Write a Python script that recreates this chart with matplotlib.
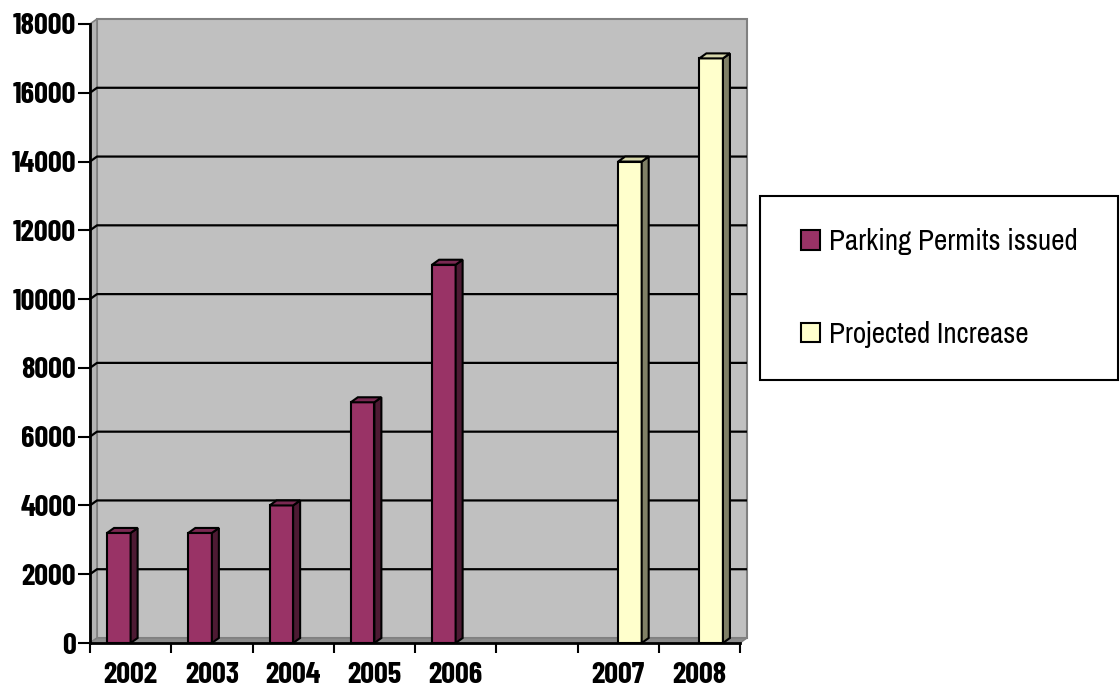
import matplotlib
matplotlib.use('Agg')
import matplotlib.pyplot as plt
from matplotlib.patches import Polygon, Rectangle
import numpy as np

# chart data
years = ['2002', '2003', '2004', '2005', '2006', '', '2007', '2008']
permits = [3200, 3200, 4000, 7000, 11000, np.nan, np.nan, np.nan]
projected = [np.nan, np.nan, np.nan, np.nan, np.nan, np.nan, 14000, 17000]
y_ticks = list(range(0, 18001, 2000))

TICK_FONT = ['Liberation Sans Narrow', 'Barlow Condensed', 'DejaVu Sans']
LEG_FONT = ['Liberation Sans Narrow', 'Archivo Narrow', 'DejaVu Sans']
plt.rcParams['font.family'] = TICK_FONT

W, H = 1120, 689
fig = plt.figure(figsize=(W / 100, H / 100), dpi=100)
ax_l, ax_r, ax_t, ax_b = 90, 740, 24, 643  # front plane in pixels
ax = fig.add_axes([ax_l / W, (H - ax_b) / H, (ax_r - ax_l) / W, (ax_b - ax_t) / H])
ax.set_xlim(-0.5, len(years) - 0.5)
ax.set_ylim(0, 18000)
ax.set_facecolor('none')

# 3D depth in pixels, converted to axes and data units
dx_px, dy_px = 7, 5
ox = dx_px / (ax_r - ax_l)
oy = dy_px / (ax_b - ax_t)
oxd = ox * len(years)
oyd = oy * 18000

# walls
ax.add_patch(Rectangle((ox, oy), 1, 1, transform=ax.transAxes, facecolor='#c0c0c0',
                       edgecolor='#808080', lw=1.5, zorder=0, clip_on=False))
ax.add_patch(Polygon([(0, 0), (0, 1), (ox, 1 + oy), (ox, oy)], closed=True, transform=ax.transAxes,
                     facecolor='#b4b4b4', edgecolor='#808080', lw=1.2, zorder=0.5, clip_on=False))
ax.add_patch(Polygon([(0, 0), (1, 0), (1 + ox, oy), (ox, oy)], closed=True, transform=ax.transAxes,
                     facecolor='#8c8c8c', edgecolor='#808080', lw=1.0, zorder=0.5, clip_on=False))

# gridlines on the back wall
for v in y_ticks[1:-1]:
    ax.plot([-0.5, -0.5 + oxd, len(years) - 0.5 + oxd], [v, v + oyd, v + oyd],
            color='black', lw=1.6, zorder=1, clip_on=False, solid_capstyle='butt')

x = np.arange(len(years))
w = 0.29
series = [
    ('Parking Permits issued', permits, -w, '#993366', '#4d1a33', '#7a2952'),
    ('Projected Increase', projected, 0.0, '#ffffcc', '#808066', '#d6d6ab'),
]
handles = []
for label, vals, off, front, side, top in series:
    bars = ax.bar(x + off, vals, width=w, align='edge', color=front, edgecolor='black',
                  lw=1.5, zorder=3, label=label)
    handles.append(bars)
    for xi, h in zip(x + off, vals):
        if np.isnan(h):
            continue
        x0, x1 = xi, xi + w
        ax.add_patch(Polygon([(x1, 0), (x1, h), (x1 + oxd, h + oyd), (x1 + oxd, oyd)], closed=True,
                             facecolor=side, edgecolor='black', lw=1.5, zorder=3, clip_on=False))
        ax.add_patch(Polygon([(x0, h), (x1, h), (x1 + oxd, h + oyd), (x0 + oxd, h + oyd)], closed=True,
                             facecolor=top, edgecolor='black', lw=1.5, zorder=3, clip_on=False))

# axes
for s in ['top', 'right']:
    ax.spines[s].set_visible(False)
for s in ['left', 'bottom']:
    ax.spines[s].set_linewidth(2)
    ax.spines[s].set_zorder(4)

ax.set_yticks(y_ticks)
ax.set_yticklabels([str(v) for v in y_ticks], fontsize=22, fontweight='bold')
ax.tick_params(axis='y', direction='out', length=9, width=1.5, pad=1)

ax.set_xticks(np.arange(len(years) + 1) - 0.5)
ax.set_xticklabels([])
ax.tick_params(axis='x', which='major', direction='out', length=7, width=1.5)
ax.set_xticks(x, minor=True)
ax.set_xticklabels(years, minor=True, fontsize=22, fontweight='bold')
ax.tick_params(axis='x', which='minor', length=0, pad=14)

# legend with its box
fig.add_artist(Rectangle((760 / W, (H - 380) / H), 358 / W, 184 / H, transform=fig.transFigure,
                         facecolor='white', edgecolor='black', lw=1.5))
leg = fig.legend(handles=handles, loc='center left', bbox_to_anchor=(801 / W, (H - 288) / H),
                 frameon=False, prop={'family': LEG_FONT, 'size': 21}, borderpad=0,
                 handlelength=0.66, handleheight=0.66,
                 handletextpad=0.3, labelspacing=2.25, borderaxespad=0)
for p in leg.get_patches():
    p.set_linewidth(1.5)

fig.savefig('out.png', dpi=100)
